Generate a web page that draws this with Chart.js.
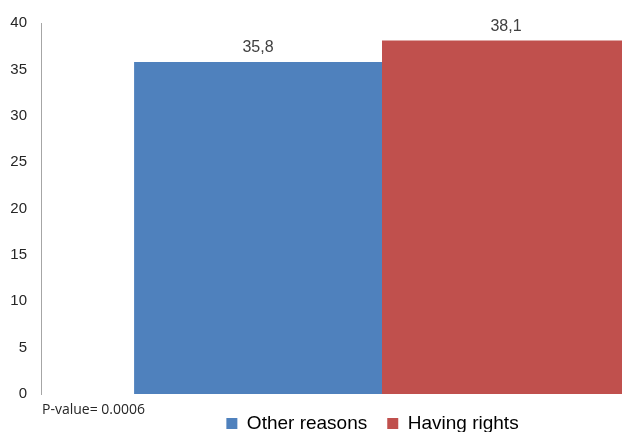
<!DOCTYPE html>
<html><head><meta charset="utf-8">
<style>
html,body{margin:0;padding:0;background:#fff;overflow:hidden}
#wrap{width:622px;height:432px;overflow:hidden;position:relative;background:#fff}
canvas{display:block}
</style>
<script src="https://cdn.jsdelivr.net/npm/chart.js@4/dist/chart.umd.min.js"></script>
</head><body>
<div id="wrap"><canvas id="c" width="748" height="432" style="width:748px;height:432px"></canvas></div>
<script>
const categories = ['Other reasons', 'Having rights'];
const values = [35.8, 38.1];
const colors = ['#4F81BD', '#C0504D'];
const yMin = 0;
const yMax = 40;
const yStep = 5;
const note = 'P-value= 0.0006';

const fmt = v => v.toFixed(1).replace('.', ',');

const valueLabels = {
  id: 'valueLabels',
  afterDatasetsDraw(chart) {
    const ctx = chart.ctx;
    ctx.save();
    ctx.font = '16px "Liberation Sans", Arial, sans-serif';
    ctx.fillStyle = '#404040';
    ctx.textAlign = 'center';
    ctx.textBaseline = 'alphabetic';
    chart.data.datasets.forEach((ds, i) => {
      const meta = chart.getDatasetMeta(i);
      meta.data.forEach((el, j) => {
        ctx.fillText(fmt(ds.data[j]), el.x, el.y - 10);
      });
    });
    ctx.restore();
  }
};

const noteText = {
  id: 'noteText',
  afterDraw(chart) {
    const ctx = chart.ctx;
    ctx.save();
    ctx.font = '14px "Open Sans", sans-serif';
    ctx.fillStyle = '#262626';
    ctx.textAlign = 'left';
    ctx.textBaseline = 'middle';
    ctx.fillText(note, chart.chartArea.left + 1, chart.chartArea.bottom + 16);
    ctx.restore();
  }
};

// the legend is centred on the full (partly cropped) chart width
const legendShift = {
  id: 'legendShift',
  afterLayout(chart) {
    const l = chart.legend;
    if (l) { l.left += 11; l.right += 11; }
  }
};

new Chart(document.getElementById('c'), {
  type: 'bar',
  data: {
    labels: [''],
    datasets: categories.map((c, i) => ({
      label: c,
      data: [values[i]],
      backgroundColor: colors[i],
      borderWidth: 0,
      categoryPercentage: 0.727,
      barPercentage: 1
    }))
  },
  options: {
    responsive: false,
    animation: false,
    devicePixelRatio: 1,
    layout: { padding: { left: 0, right: 25, top: 22, bottom: -11 } },
    plugins: {
      tooltip: { enabled: false },
      legend: {
        position: 'bottom',
        labels: {
          boxWidth: 11,
          boxHeight: 11,
          padding: 20,
          color: '#000000',
          font: { family: '"Liberation Sans", Arial, sans-serif', size: 19 }
        }
      }
    },
    scales: {
      x: { display: false },
      y: {
        min: yMin,
        max: yMax,
        afterFit: s => { s.width = 41; },
        grid: { display: false, drawTicks: false },
        border: { display: true, color: '#A6A6A6', width: 1 },
        ticks: {
          stepSize: yStep,
          padding: 14,
          color: '#262626',
          font: { family: '"Liberation Sans", Arial, sans-serif', size: 15 }
        }
      }
    }
  },
  plugins: [valueLabels, noteText, legendShift]
});
</script>
</body></html>
